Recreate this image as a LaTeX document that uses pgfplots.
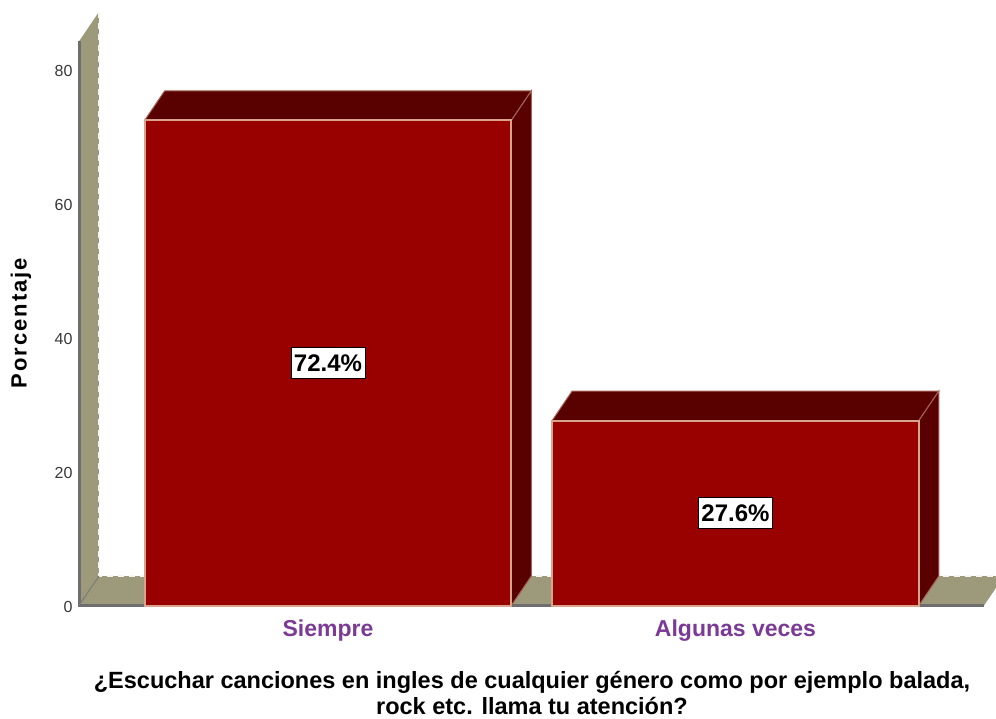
\documentclass[border=0pt]{standalone}
\usepackage{fontspec}
\setmainfont{Liberation Sans}
\usepackage{pgfplots}
\pgfplotsset{compat=1.18}
\definecolor{wallc}{HTML}{9C9A7A}
\definecolor{axisc}{HTML}{6E6E6E}
\definecolor{barfront}{HTML}{990000}
\definecolor{bardark}{HTML}{590000}
\definecolor{barline}{HTML}{D8A58C}
\definecolor{catc}{HTML}{7B3A96}
\definecolor{tickc}{HTML}{383838}
\begin{document}
\begin{tikzpicture}[x=1pt,y=1pt]
\useasboundingbox (0,0) rectangle (996,718);
\begin{axis}[
    at={(79pt,112.5pt)},
    anchor=south west,
    scale only axis,
    width=925pt,
    height=603pt,
    xmin=-0.6110, xmax=1.6589,
    ymin=0, ymax=90,
    clip=false,
    axis line style={draw=none},
    major tick length=0pt,
    xtick={0,1},
    xticklabels={Siempre,Algunas veces},
    xticklabel style={font=\fontsize{23}{23}\selectfont\bfseries, text=catc, text height=17pt, text depth=5pt, yshift=-10pt},
    ytick={0,20,40,60,80},
    yticklabel style={font=\fontsize{16}{16}\selectfont, text=tickc, xshift=-3pt, yshift=-1pt},
    /pgf/number format/assume math mode=true,
]
% wall and floor
\addplot[fill=wallc, draw=none] coordinates {(-0.611,0) (-0.562,4.4) (-0.562,88.6) (-0.611,84.2)} -- cycle;
\addplot[fill=wallc, draw=none] coordinates {(-0.611,0) (-0.562,4.4) (1.6589,4.4) (1.6098,0)} -- cycle;
\addplot[white!90!wallc, line width=1.5pt, dash pattern=on 6pt off 5pt] coordinates {(-0.562,88.6) (-0.562,4.4) (1.6589,4.4)};
\addplot[axisc, line width=3pt] coordinates {(-0.611,84.2) (-0.611,0) (1.6098,0)};
\addplot[axisc!70!wallc, line width=1pt] coordinates {(-0.611,0) (-0.562,4.4)};
% bar 1 depth faces
\addplot[fill=bardark, draw=barline!60!bardark, line width=1pt] coordinates {(-0.45,72.4) (-0.401,76.8) (0.499,76.8) (0.45,72.4)} -- cycle;
\addplot[fill=bardark, draw=barline!60!bardark, line width=1pt] coordinates {(0.45,0) (0.499,4.4) (0.499,76.8) (0.45,72.4)} -- cycle;
% bar 2 depth faces
\addplot[fill=bardark, draw=barline!60!bardark, line width=1pt] coordinates {(0.55,27.6) (0.599,32) (1.499,32) (1.45,27.6)} -- cycle;
\addplot[fill=bardark, draw=barline!60!bardark, line width=1pt] coordinates {(1.45,0) (1.499,4.4) (1.499,32) (1.45,27.6)} -- cycle;
% front faces
\addplot[ybar, bar width=0.9, bar shift=0pt, fill=barfront, draw=barline, line width=2pt] coordinates {(0,72.4) (1,27.6)};
\node[fill=white, draw=black, line width=0.8pt, inner xsep=3pt, inner ysep=7pt, font=\fontsize{24}{24}\selectfont\bfseries] at (axis cs:0,36.2) {72.4\%};
\node[fill=white, draw=black, line width=0.8pt, inner xsep=3pt, inner ysep=7pt, font=\fontsize{24}{24}\selectfont\bfseries] at (axis cs:1,13.8) {27.6\%};
\end{axis}
\node[rotate=90, font=\fontsize{22}{22}\selectfont\bfseries\addfontfeature{LetterSpace=9}] at (21,395) {Porcentaje};
\node[align=center, font=\fontsize{23.5}{25.5}\selectfont\bfseries] at (532,25) {¿Escuchar canciones en ingles de cualquier género como por ejemplo balada,\\rock etc. llama tu atención?};
\end{tikzpicture}
\end{document}
